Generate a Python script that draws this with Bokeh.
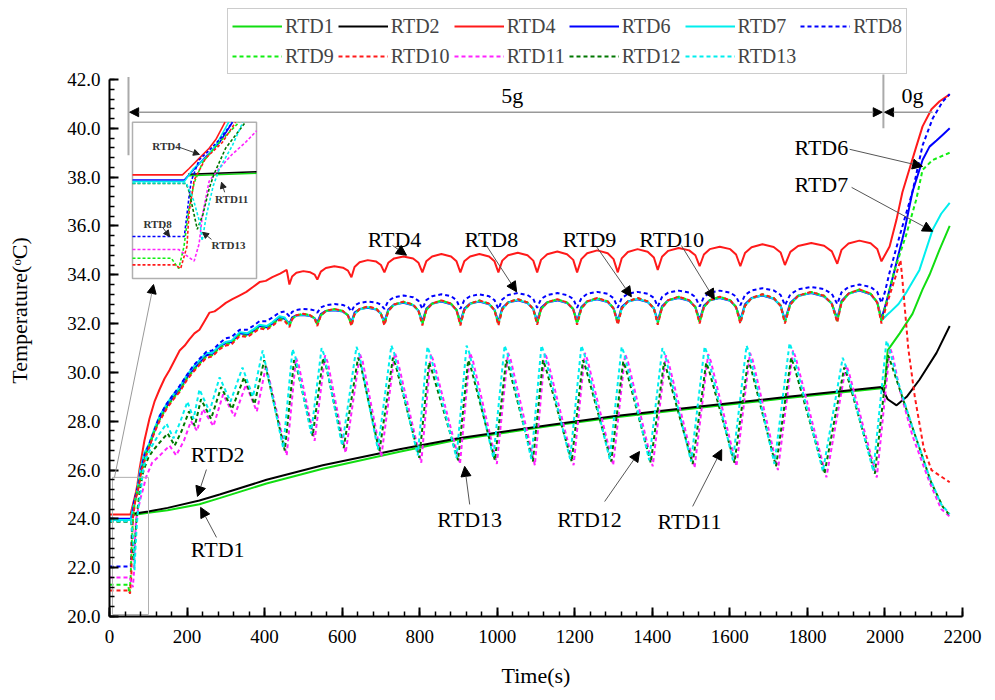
import math
from bokeh.plotting import figure
from bokeh.models import (Range1d, SingleIntervalTicker, PrintfTickFormatter, Legend, LegendItem,
                          Arrow, NormalHead, Label)
from bokeh.embed import file_html
from bokeh.resources import INLINE

# ---------------- data (time s, temperature C) ----------------
# shared sample times of the 5g oscillation (cusps and arch tops)
t_arch = [464, 471, 482, 500, 518, 529, 536, 545, 558, 580, 602, 615, 624, 632, 645, 666, 688, 700,
          709, 719, 734, 758, 783, 797, 807, 817, 832, 856, 881, 895, 905, 915, 930, 954, 979, 993,
          1003, 1013, 1028, 1053, 1078, 1093, 1103, 1113, 1129, 1155, 1180, 1196,
          1206, 1217, 1232, 1258, 1285, 1300, 1311, 1321, 1337, 1362, 1388, 1404,
          1414, 1425, 1441, 1468, 1495, 1511, 1522, 1533, 1548, 1574, 1601, 1616,
          1627, 1639, 1656, 1684, 1713, 1731, 1742, 1756, 1776, 1810, 1843, 1863,
          1877, 1888, 1906, 1934, 1963, 1980, 1991]

rtd1 = [(57, 24.15), (100, 24.25), (150, 24.35), (232, 24.6), (284, 24.85), (405, 25.45), (550, 26.05),
        (748, 26.75), (900, 27.25), (1135, 27.8), (1300, 28.15), (1522, 28.55), (1750, 28.95), (1991, 29.35),
        (2000, 29.5), (2007, 30.9), (2038, 31.6), (2071, 32.4), (2097, 33.4), (2115, 34.0), (2140, 35.0),
        (2167, 36.0)]
rtd2 = [(57, 24.2), (100, 24.3), (150, 24.45), (232, 24.75), (284, 25.0), (405, 25.6), (550, 26.2),
        (748, 26.85), (900, 27.3), (1135, 27.85), (1300, 28.2), (1522, 28.6), (1750, 29.0), (1991, 29.4),
        (2007, 28.9), (2030, 28.65), (2056, 29.0), (2089, 29.7), (2133, 30.8), (2167, 31.9)]

rtd4_head = [(0, 24.18), (54, 24.18), (57.6, 24.4), (63, 24.75), (68.4, 25.1), (72, 25.4), (77, 26.0),
             (90, 27.2), (103, 28.1), (116, 28.8), (129, 29.3), (142, 29.75), (155, 30.1), (168, 30.5),
             (181, 30.9), (194, 31.1), (206, 31.35), (219, 31.6), (232, 31.75), (245, 32.1), (258, 32.45),
             (271, 32.5), (284, 32.65), (300, 32.85), (317, 33.0), (335, 33.15), (353, 33.3), (370, 33.5),
             (387, 33.7), (403, 33.75), (420, 33.9), (440, 34.05), (457, 34.2)]
rtd4_arch = [33.6, 33.93, 34.08, 34.15, 34.1, 34.01, 33.8, 34.13, 34.28, 34.35, 34.29, 34.17,
             33.9, 34.32, 34.51, 34.6, 34.54, 34.4, 34.1, 34.49, 34.67, 34.75, 34.67, 34.49,
             34.1, 34.55, 34.75, 34.85, 34.75, 34.55, 34.1, 34.55, 34.75, 34.85, 34.75, 34.55,
             34.1, 34.58, 34.8, 34.9, 34.8, 34.58, 34.1, 34.61, 34.84, 34.95, 34.84, 34.61,
             34.1, 34.64, 34.88, 35.0, 34.88, 34.64, 34.1, 34.67, 34.93, 35.05, 34.94, 34.71,
             34.2, 34.74, 34.98, 35.1, 35.0, 34.8, 34.35, 34.83, 35.05, 35.15, 35.05, 34.83,
             34.35, 34.89, 35.13, 35.25, 35.14, 34.91, 34.4, 34.94, 35.18, 35.3, 35.19, 34.96,
             34.45, 35.02, 35.28, 35.4, 35.29, 35.06, 34.55]
rtd4_tail = [(2012, 35.16), (2030, 36.27), (2045, 37.38), (2063, 38.32), (2081, 39.26), (2097, 40.08),
             (2120, 40.78), (2141, 41.11), (2167, 41.39)]

rtd6_head = [(0, 24.0), (55, 24.0), (62, 24.5), (68, 24.9), (74, 25.3), (81, 26.0), (90, 26.6), (103, 27.0),
             (116, 27.6), (129, 28.1), (147, 28.6), (165, 29.0), (181, 29.3), (200, 29.8), (215, 30.1),
             (232, 30.4), (250, 30.7), (265, 30.75), (284, 31.07), (300, 31.2), (315, 31.25), (336, 31.6),
             (355, 31.55), (370, 31.7), (387, 31.9), (405, 31.85), (420, 32.0), (438, 32.25), (452, 32.2)]
rtd6_arch = [32.0, 32.25, 32.34, 32.35, 32.31, 32.22, 32.05, 32.39, 32.52, 32.55, 32.49, 32.34,
             32.05, 32.45, 32.6, 32.65, 32.58, 32.41, 32.07, 32.58, 32.78, 32.85, 32.75, 32.53,
             32.07, 32.61, 32.82, 32.9, 32.79, 32.56, 32.07, 32.61, 32.82, 32.9, 32.79, 32.56,
             32.07, 32.64, 32.87, 32.95, 32.84, 32.6, 32.1, 32.65, 32.87, 32.95, 32.84, 32.6,
             32.1, 32.68, 32.91, 33.0, 32.88, 32.63, 32.1, 32.68, 32.91, 33.0, 32.88, 32.63,
             32.1, 32.71, 32.96, 33.05, 32.93, 32.68, 32.15, 32.73, 32.96, 33.05, 32.93, 32.68,
             32.15, 32.79, 33.05, 33.15, 33.02, 32.74, 32.15, 32.85, 33.14, 33.25, 33.11, 32.82,
             32.2, 32.93, 33.23, 33.35, 33.2, 32.88, 32.2]
rtd6_tail = [(2004, 32.9), (2025, 34.2), (2051, 35.85), (2071, 37.4), (2097, 38.7), (2115, 39.25),
             (2133, 39.5), (2150, 39.75), (2167, 40.0)]

rtd7_head = [(0, 23.95), (55, 23.95), (60, 24.4), (67, 24.8), (72, 25.2), (79, 26.0), (90, 26.7),
             (103, 27.1), (116, 27.7), (129, 28.2), (147, 28.7), (165, 29.1), (181, 29.4), (200, 29.9),
             (215, 30.2), (232, 30.5), (250, 30.8), (265, 30.8), (284, 31.1), (300, 31.25), (315, 31.3),
             (336, 31.65), (355, 31.6), (370, 31.75), (387, 31.95), (405, 31.9), (420, 32.05), (438, 32.3),
             (452, 32.25)]
rtd7_arch = [31.93, 32.19, 32.32, 32.37, 32.32, 32.21, 31.98, 32.33, 32.5, 32.57, 32.5, 32.33,
             31.98, 32.39, 32.58, 32.67, 32.59, 32.4, 32.0, 32.52, 32.76, 32.87, 32.76, 32.52,
             32.0, 32.55, 32.8, 32.92, 32.8, 32.55, 32.0, 32.55, 32.8, 32.92, 32.8, 32.55,
             32.0, 32.58, 32.85, 32.97, 32.85, 32.59, 32.03, 32.59, 32.85, 32.97, 32.85, 32.59,
             32.03, 32.62, 32.89, 33.02, 32.89, 32.62, 32.03, 32.62, 32.89, 33.02, 32.89, 32.62,
             32.03, 32.65, 32.94, 33.07, 32.94, 32.67, 32.08, 32.67, 32.94, 33.07, 32.94, 32.67,
             32.08, 32.73, 33.03, 33.17, 33.03, 32.73, 32.08, 32.79, 33.12, 33.27, 33.12, 32.81,
             32.13, 32.87, 33.21, 33.37, 33.21, 32.87, 32.13]
rtd7_tail = [(2005, 32.35), (2012, 32.45), (2035, 32.8), (2056, 33.3), (2089, 34.2), (2123, 35.85),
             (2145, 36.5), (2167, 36.95)]

rtd8_head = [(0, 22.05), (55, 22.05), (56.4, 22.8), (57.5, 23.4), (58.7, 23.96), (63, 24.7), (68, 25.0),
             (74, 25.4), (81, 26.0), (90, 26.6), (103, 27.1), (129, 28.2), (147, 28.7), (165, 29.1),
             (181, 29.45), (200, 29.9), (215, 30.25), (232, 30.55), (250, 30.85), (265, 30.9), (284, 31.2),
             (300, 31.4), (315, 31.45), (336, 31.75), (355, 31.75), (370, 31.9), (387, 32.1), (405, 32.1),
             (420, 32.25), (438, 32.45), (452, 32.5)]
rtd8_arch = [32.3, 32.48, 32.56, 32.6, 32.58, 32.54, 32.45, 32.66, 32.75, 32.8, 32.76, 32.68,
             32.5, 32.74, 32.85, 32.9, 32.86, 32.78, 32.6, 32.93, 33.08, 33.15, 33.08, 32.93,
             32.6, 32.96, 33.12, 33.2, 33.12, 32.96, 32.6, 32.96, 33.12, 33.2, 33.12, 32.96,
             32.6, 32.99, 33.17, 33.25, 33.17, 33.01, 32.65, 33.01, 33.17, 33.25, 33.17, 33.01,
             32.65, 33.04, 33.22, 33.3, 33.22, 33.04, 32.65, 33.04, 33.22, 33.3, 33.22, 33.06,
             32.7, 33.09, 33.27, 33.35, 33.27, 33.09, 32.7, 33.09, 33.27, 33.35, 33.27, 33.11,
             32.75, 33.17, 33.36, 33.45, 33.36, 33.17, 32.75, 33.2, 33.4, 33.5, 33.41, 33.22,
             32.8, 33.28, 33.5, 33.6, 33.5, 33.3, 32.85]
rtd8_tail = [(2000, 33.3), (2012, 34.1), (2038, 35.6), (2071, 37.4), (2097, 39.3), (2123, 40.4),
             (2149, 41.1), (2167, 41.4)]

rtd9_head = [(0, 21.3), (48, 21.3), (50.8, 21.03), (52, 20.94), (54.8, 21.7), (57.5, 23.0), (60.3, 23.9),
             (64.8, 24.6), (73.8, 25.3), (84.6, 26.0), (95, 26.7), (103, 27.0), (116, 27.6), (129, 28.05),
             (147, 28.55), (165, 28.95), (181, 29.25), (200, 29.75), (215, 30.05), (232, 30.35), (250, 30.65),
             (265, 30.7), (284, 31.0), (300, 31.15), (315, 31.2), (336, 31.55), (355, 31.5), (370, 31.65),
             (387, 31.85), (405, 31.8), (420, 31.95), (438, 32.2), (452, 32.15)]
rtd9_arch = [31.9, 32.2, 32.34, 32.4, 32.34, 32.22, 31.95, 32.34, 32.52, 32.6, 32.52, 32.34,
             31.95, 32.4, 32.6, 32.7, 32.61, 32.41, 31.97, 32.53, 32.78, 32.9, 32.78, 32.53,
             31.97, 32.56, 32.82, 32.95, 32.82, 32.56, 31.97, 32.56, 32.82, 32.95, 32.82, 32.56,
             31.97, 32.59, 32.87, 33.0, 32.87, 32.6, 32.0, 32.6, 32.87, 33.0, 32.87, 32.6,
             32.0, 32.63, 32.91, 33.05, 32.91, 32.63, 32.0, 32.63, 32.91, 33.05, 32.91, 32.63,
             32.0, 32.66, 32.96, 33.1, 32.96, 32.68, 32.05, 32.68, 32.96, 33.1, 32.96, 32.68,
             32.05, 32.74, 33.05, 33.2, 33.05, 32.74, 32.05, 32.8, 33.14, 33.3, 33.14, 32.82,
             32.1, 32.88, 33.23, 33.4, 33.23, 32.88, 32.1]
rtd9_tail = [(2004, 32.9), (2025, 34.2), (2056, 35.7), (2081, 37.1), (2097, 38.3), (2123, 38.7),
             (2167, 39.0)]

rtd10_head = [(0, 21.07), (50, 21.07), (53, 20.94), (56.4, 21.7), (57.6, 22.9), (60.3, 24.0), (66.5, 24.75),
              (75.5, 25.3), (82.7, 26.0), (95, 26.6), (103, 26.95), (116, 27.55), (129, 28.0), (147, 28.5),
              (165, 28.9), (181, 29.2), (200, 29.7), (215, 30.0), (232, 30.3), (250, 30.6), (265, 30.65),
              (284, 30.95), (300, 31.1), (315, 31.15), (336, 31.5), (355, 31.45), (370, 31.6), (387, 31.8),
              (405, 31.75), (420, 31.9), (438, 32.15), (452, 32.1)]
rtd10_arch = [31.85, 32.18, 32.34, 32.4, 32.34, 32.2, 31.9, 32.32, 32.52, 32.6, 32.52, 32.32,
              31.9, 32.38, 32.6, 32.7, 32.61, 32.39, 31.92, 32.51, 32.78, 32.9, 32.78, 32.51,
              31.92, 32.54, 32.82, 32.95, 32.82, 32.54, 31.92, 32.54, 32.82, 32.95, 32.82, 32.54,
              31.92, 32.57, 32.87, 33.0, 32.87, 32.58, 31.95, 32.58, 32.87, 33.0, 32.87, 32.58,
              31.95, 32.61, 32.91, 33.05, 32.91, 32.61, 31.95, 32.61, 32.91, 33.05, 32.91, 32.61,
              31.95, 32.64, 32.96, 33.1, 32.96, 32.66, 32.0, 32.66, 32.96, 33.1, 32.96, 32.66,
              32.0, 32.72, 33.05, 33.2, 33.05, 32.72, 32.0, 32.78, 33.14, 33.3, 33.14, 32.8,
              32.05, 32.86, 33.23, 33.4, 33.23, 32.86, 32.0]
rtd10_tail = [(2005, 32.8), (2025, 33.8), (2040, 34.6), (2045, 33.8), (2060, 31.0), (2077, 29.0),
              (2100, 26.9), (2120, 26.0), (2167, 25.5)]

rtd11 = [(0, 21.6), (52, 21.6), (56, 21.4), (60.3, 21.2), (63, 21.8), (64.8, 22.8), (68.4, 23.96), (73.8, 24.4),
         (81, 24.9), (88, 25.3), (94, 25.7), (110, 26.3), (130, 26.6), (155, 27.0), (172, 26.6), (192, 27.2),
         (210, 28.0), (226, 27.6), (241, 28.5), (268, 27.8), (293, 29.1), (322, 28.2), (352, 29.5), (380, 28.4),
         (404, 30.3), (457, 26.6), (481, 30.6), (488, 30.3), (529, 27.2), (556, 30.7), (563, 30.4), (609, 26.7),
         (646, 30.75), (653, 30.45), (701, 26.55), (736, 30.8), (743, 30.5), (804, 26.3), (829, 30.75),
         (836, 30.45), (904, 26.25), (930, 30.8), (937, 30.5), (999, 26.25), (1028, 30.8), (1035, 30.5),
         (1097, 26.2), (1123, 30.8), (1130, 30.5), (1197, 26.2), (1226, 30.8), (1233, 30.5), (1299, 26.2),
         (1330, 30.75), (1337, 30.45), (1401, 26.15), (1435, 30.7), (1442, 30.4), (1509, 26.1), (1544, 30.75),
         (1551, 30.45), (1617, 26.15), (1652, 30.8), (1659, 30.5), (1724, 26.0), (1763, 30.9), (1770, 30.6),
         (1849, 25.7), (1900, 30.3), (1907, 30.0), (1979, 25.7), (2013, 31.0), (2020, 30.7), (2038, 29.3),
         (2071, 27.4), (2115, 25.5), (2145, 24.4), (2167, 24.1)]

rtd12 = [(0, 23.88), (56, 23.88), (57.6, 23.6), (60.3, 22.8), (62, 22.3), (65, 22.8), (68.4, 23.7), (71, 24.2),
         (77.3, 25.1), (88, 26.0), (100, 26.5), (112, 26.8), (128, 27.1), (150, 27.5), (168, 27.0), (186, 27.6),
         (205, 28.4), (220, 27.8), (236, 28.9), (262, 28.1), (288, 29.4), (316, 28.5), (347, 29.8), (374, 28.7),
         (399, 30.5), (452, 26.8), (476, 30.5), (483, 30.2), (524, 27.4), (551, 30.6), (558, 30.3), (604, 26.9),
         (641, 30.6), (648, 30.3), (696, 26.75), (731, 30.6), (738, 30.3), (799, 26.5), (824, 30.4), (831, 30.1),
         (899, 26.4), (925, 30.5), (932, 30.2), (994, 26.4), (1023, 30.5), (1030, 30.2), (1092, 26.35),
         (1118, 30.5), (1125, 30.2), (1192, 26.35), (1221, 30.5), (1228, 30.2), (1294, 26.35), (1325, 30.45),
         (1332, 30.15), (1396, 26.3), (1430, 30.4), (1437, 30.1), (1504, 26.25), (1539, 30.4), (1546, 30.1),
         (1612, 26.3), (1647, 30.5), (1654, 30.2), (1719, 26.15), (1758, 30.6), (1765, 30.3), (1844, 25.85),
         (1895, 30.2), (1902, 29.9), (1974, 25.85), (2008, 30.7), (2015, 30.4), (2034, 29.5), (2074, 27.6),
         (2119, 25.5), (2149, 24.5), (2167, 24.15)]

rtd13 = [(0, 23.9), (56, 23.9), (60, 23.3), (63.5, 22.5), (64.6, 21.9), (67, 22.8), (70.6, 23.8), (74, 24.4),
         (81, 25.2), (86.6, 26.0), (95, 26.5), (110, 27.0), (125, 27.4), (147, 27.9), (165, 27.3), (183, 28.0),
         (201, 28.8), (217, 28.1), (232, 29.3), (258, 28.4), (284, 29.8), (312, 28.8), (343, 30.2), (370, 29.0),
         (395, 30.9), (448, 26.9), (472, 30.95), (479, 30.65), (520, 27.5), (547, 31.0), (554, 30.7), (600, 27.0),
         (637, 31.05), (644, 30.75), (692, 26.85), (727, 31.1), (734, 30.8), (795, 26.6), (820, 31.05),
         (827, 30.75), (895, 26.5), (921, 31.1), (928, 30.8), (990, 26.5), (1019, 31.1), (1026, 30.8),
         (1088, 26.45), (1114, 31.1), (1121, 30.8), (1188, 26.45), (1217, 31.1), (1224, 30.8), (1290, 26.45),
         (1321, 31.05), (1328, 30.75), (1392, 26.4), (1426, 31.0), (1433, 30.7), (1500, 26.35), (1535, 31.05),
         (1542, 30.75), (1608, 26.4), (1643, 31.1), (1650, 30.8), (1715, 26.25), (1754, 31.2), (1761, 30.9),
         (1840, 25.95), (1891, 30.6), (1898, 30.3), (1970, 25.95), (2004, 31.3), (2011, 31.0), (2030, 29.8),
         (2070, 27.8), (2115, 25.7), (2145, 24.6), (2167, 24.2)]

legend_labels = ["RTD1", "RTD2", "RTD4", "RTD6", "RTD7", "RTD8", "RTD9", "RTD10", "RTD11", "RTD12", "RTD13"]
tick_x = 200
tick_y = 2
y_axis_lo, y_axis_hi = 20, 42


def join(head, arch, tail):
    pts = list(head) + list(zip(t_arch, arch)) + list(tail)
    return [a for a, _ in pts], [b for _, b in pts]


def split(pts):
    return [a for a, _ in pts], [b for _, b in pts]


series = {
    "RTD1": split(rtd1),
    "RTD2": split(rtd2),
    "RTD4": join(rtd4_head, rtd4_arch, rtd4_tail),
    "RTD6": join(rtd6_head, rtd6_arch, rtd6_tail),
    "RTD7": join(rtd7_head, rtd7_arch, rtd7_tail),
    "RTD8": join(rtd8_head, rtd8_arch, rtd8_tail),
    "RTD9": join(rtd9_head, rtd9_arch, rtd9_tail),
    "RTD10": join(rtd10_head, rtd10_arch, rtd10_tail),
    "RTD11": split(rtd11),
    "RTD12": split(rtd12),
    "RTD13": split(rtd13),
}

styles = {
    "RTD1": ("#11dd11", "solid"),
    "RTD2": ("black", "solid"),
    "RTD4": ("#ff1a1a", "solid"),
    "RTD6": ("#0000ff", "solid"),
    "RTD7": ("#00eeee", "solid"),
    "RTD8": ("#0000ff", "4 3"),
    "RTD9": ("#11ee11", "4 3"),
    "RTD10": ("#ff1a1a", "4 3"),
    "RTD11": ("#ff22ff", "4 3"),
    "RTD12": ("#007700", "4 3"),
    "RTD13": ("#00eeee", "4 3"),
}

SERIF = "Liberation Serif"

# frame extends above the axis top so the legend can sit inside it (axis bounded to 20..42)
W, H = 985, 696
BORDER_TOP, BORDER_BOTTOM = 4, 80
AXIS_TOP_PX = 79                      # pixel row (in figure) of the 42.0 tick
frame_h = H - BORDER_TOP - BORDER_BOTTOM
px_per_deg = (H - BORDER_BOTTOM - AXIS_TOP_PX) / (y_axis_hi - y_axis_lo)
FRAME_TOP_VAL = y_axis_hi + (AXIS_TOP_PX - BORDER_TOP) / px_per_deg

p = figure(width=W, height=H, x_range=Range1d(0, 2200), y_range=Range1d(y_axis_lo, FRAME_TOP_VAL),
           output_backend="svg", toolbar_location=None,
           min_border_left=109, min_border_right=23, min_border_top=BORDER_TOP, min_border_bottom=BORDER_BOTTOM)
p.xgrid.visible = False
p.ygrid.visible = False
p.outline_line_color = None
p.background_fill_color = "white"

p.xaxis.ticker = SingleIntervalTicker(interval=tick_x, num_minor_ticks=5)
p.yaxis.ticker = SingleIntervalTicker(interval=tick_y, num_minor_ticks=5)
p.yaxis.bounds = (y_axis_lo, y_axis_hi)
p.yaxis.formatter = PrintfTickFormatter(format="%.1f")
p.xaxis.axis_label = "Time(s)"
p.yaxis.axis_label = "Temperature(\u1d52C)"
for ax in (p.xaxis[0], p.yaxis[0]):
    ax.major_tick_in = 9
    ax.major_tick_out = 0
    ax.minor_tick_in = 5
    ax.minor_tick_out = 0
    ax.axis_line_width = 2
    ax.major_tick_line_width = 2
    ax.minor_tick_line_width = 1.5
    ax.axis_line_color = "black"
    ax.major_tick_line_color = "black"
    ax.minor_tick_line_color = "black"
    ax.major_label_text_font = SERIF
    ax.major_label_text_font_size = "19px"
    ax.major_label_text_color = "black"
    ax.axis_label_text_font = SERIF
    ax.axis_label_text_font_size = "22px"
    ax.axis_label_text_font_style = "normal"
    ax.axis_label_text_color = "black"
p.xaxis.major_label_standoff = 13
p.xaxis.axis_label_standoff = 17
p.yaxis.major_label_standoff = 9
p.yaxis.axis_label_standoff = 32

renderers = {}
for name in legend_labels:
    ts, Ts = series[name]
    col, dash = styles[name]
    renderers[name] = p.line(ts, Ts, line_color=col, line_width=2, line_dash=dash)

# ---------------- inset ----------------
box = (59.3, 379.2, 33.85, 40.25)      # inset box in main data units
win = (27.0, 94.0, 20.6, 26.0)         # zoomed window shown in the inset
sx = (box[1] - box[0]) / (win[1] - win[0])
sy = (box[3] - box[2]) / (win[3] - win[2])
p.extra_x_ranges = {"ix": Range1d(win[0] + (0 - box[0]) / sx, win[0] + (2200 - box[0]) / sx)}
p.extra_y_ranges = {"iy": Range1d(win[2] + (y_axis_lo - box[2]) / sy, win[2] + (FRAME_TOP_VAL - box[2]) / sy)}

p.quad(left=box[0], right=box[1], bottom=box[2], top=box[3], fill_color="white",
       line_color="#b0b0b0", line_width=1.5)


def clip_line(xs, ys, x0, x1, y0, y1):
    ox, oy = [], []
    last = None
    for i in range(len(xs) - 1):
        xa, ya, xb, yb = xs[i], ys[i], xs[i + 1], ys[i + 1]
        dx, dy = xb - xa, yb - ya
        u0, u1 = 0.0, 1.0
        ok = True
        for pp, qq in ((-dx, xa - x0), (dx, x1 - xa), (-dy, ya - y0), (dy, y1 - ya)):
            if pp == 0:
                if qq < 0:
                    ok = False
                    break
            else:
                r = qq / pp
                if pp < 0:
                    if r > u1:
                        ok = False
                        break
                    u0 = max(u0, r)
                else:
                    if r < u0:
                        ok = False
                        break
                    u1 = min(u1, r)
        if not ok:
            last = None
            continue
        ax_, ay_ = xa + u0 * dx, ya + u0 * dy
        bx_, by_ = xa + u1 * dx, ya + u1 * dy
        if last is None or abs(last[0] - ax_) > 1e-9 or abs(last[1] - ay_) > 1e-9:
            if ox:
                ox.append(float("nan"))
                oy.append(float("nan"))
            ox.append(ax_)
            oy.append(ay_)
        ox.append(bx_)
        oy.append(by_)
        last = (bx_, by_)
    return ox, oy


for name in legend_labels:
    ts, Ts = series[name]
    col, dash = styles[name]
    cx, cy = clip_line(ts, Ts, *win)
    if cx:
        p.line(cx, cy, line_color=col, line_width=1.6, line_dash=("3 2" if dash != "solid" else "solid"),
               x_range_name="ix", y_range_name="iy")

# source rectangle and connector
p.quad(left=7.7, right=100.6, bottom=20.08, top=25.7, fill_color=None, line_color="#b0b0b0", line_width=1)
p.add_layout(Arrow(end=NormalHead(size=9, fill_color="black", line_color="black"),
                   x_start=12.9, y_start=25.7, x_end=113.5, y_end=33.6,
                   line_color="#999999", line_width=1))

# ---------------- 5g / 0g dimension lines ----------------
p.segment(x0=[49, 1996], y0=[42.1, 42.2], x1=[49, 1996], y1=[38.9, 40.0], line_color="#aaaaaa", line_width=2)
p.add_layout(Arrow(start=NormalHead(size=9, fill_color="black", line_color="black"),
                   end=NormalHead(size=9, fill_color="black", line_color="black"),
                   x_start=52, y_start=40.66, x_end=1993, y_end=40.66,
                   line_color="#999999", line_width=1.5))
p.add_layout(Arrow(start=NormalHead(size=9, fill_color="black", line_color="black"), end=None,
                   x_start=1999, y_start=40.66, x_end=2123, y_end=40.66,
                   line_color="#999999", line_width=1.5))
for txt, x, y in (("5g", 1039, 41.35), ("0g", 2071, 41.35)):
    p.add_layout(Label(x=x, y=y, text=txt, text_align="center", text_baseline="middle",
                       text_font=SERIF, text_font_size="22px", text_color="black"))

# ---------------- curve labels with arrows ----------------
labels = [
    ("RTD4", 735, 35.45, 730, 35.2, 766, 34.8),
    ("RTD8", 985, 35.45, 972, 35.2, 1050, 33.3),
    ("RTD9", 1238, 35.45, 1254, 35.2, 1346, 33.1),
    ("RTD10", 1450, 35.45, 1475, 35.2, 1560, 33.0),
    ("RTD6", 1836, 39.22, 1909, 39.14, 2097, 38.44),
    ("RTD7", 1836, 37.70, 1914, 37.58, 2123, 35.78),
    ("RTD2", 279, 26.64, 250, 26.02, 227, 24.92),
    ("RTD1", 279, 22.75, 276, 23.24, 235, 24.47),
    ("RTD13", 929, 23.98, 929, 24.59, 916, 26.15),
    ("RTD12", 1238, 23.98, 1277, 24.71, 1367, 26.76),
    ("RTD11", 1496, 23.9, 1504, 24.51, 1579, 26.84),
]
for txt, lx, ly, x0, y0, x1, y1 in labels:
    p.add_layout(Arrow(end=NormalHead(size=10, fill_color="black", line_color="black"),
                       x_start=x0, y_start=y0, x_end=x1, y_end=y1,
                       line_color="#555555", line_width=1))
    p.add_layout(Label(x=lx, y=ly, text=txt, text_align="center", text_baseline="middle",
                       text_font=SERIF, text_font_size="22px", text_color="black"))

inset_labels = [
    ("RTD4", 147, 39.26, 180.5, 39.22, 232, 38.93),
    ("RTD11", 315, 37.09, 297, 37.38, 289, 37.79),
    ("RTD8", 124, 36.1, 137, 35.94, 155, 35.57),
    ("RTD13", 307, 35.2, 263, 35.45, 240, 35.74),
]
for txt, lx, ly, x0, y0, x1, y1 in inset_labels:
    p.add_layout(Arrow(end=NormalHead(size=6, fill_color="#222222", line_color="#222222"),
                       x_start=x0, y_start=y0, x_end=x1, y_end=y1,
                       line_color="#444444", line_width=1))
    p.add_layout(Label(x=lx, y=ly, text=txt, text_align="center", text_baseline="middle",
                       text_font=SERIF, text_font_size="11px", text_font_style="bold", text_color="#333333"))

# ---------------- legend (inside the frame's upper strip) ----------------
items = [LegendItem(label=n, renderers=[renderers[n]]) for n in legend_labels]
legend = Legend(items=items, orientation="horizontal", ncols=6,
                location=(118, frame_h - 70), margin=0, padding=4, spacing=4,
                label_text_font=SERIF, label_text_font_size="20px", label_standoff=3,
                glyph_width=50, glyph_height=26, label_height=26,
                border_line_color="#999999", border_line_width=1.5,
                background_fill_color="white", background_fill_alpha=1)
p.add_layout(legend, "center")

open("out.html", "w").write(file_html(p, INLINE))
